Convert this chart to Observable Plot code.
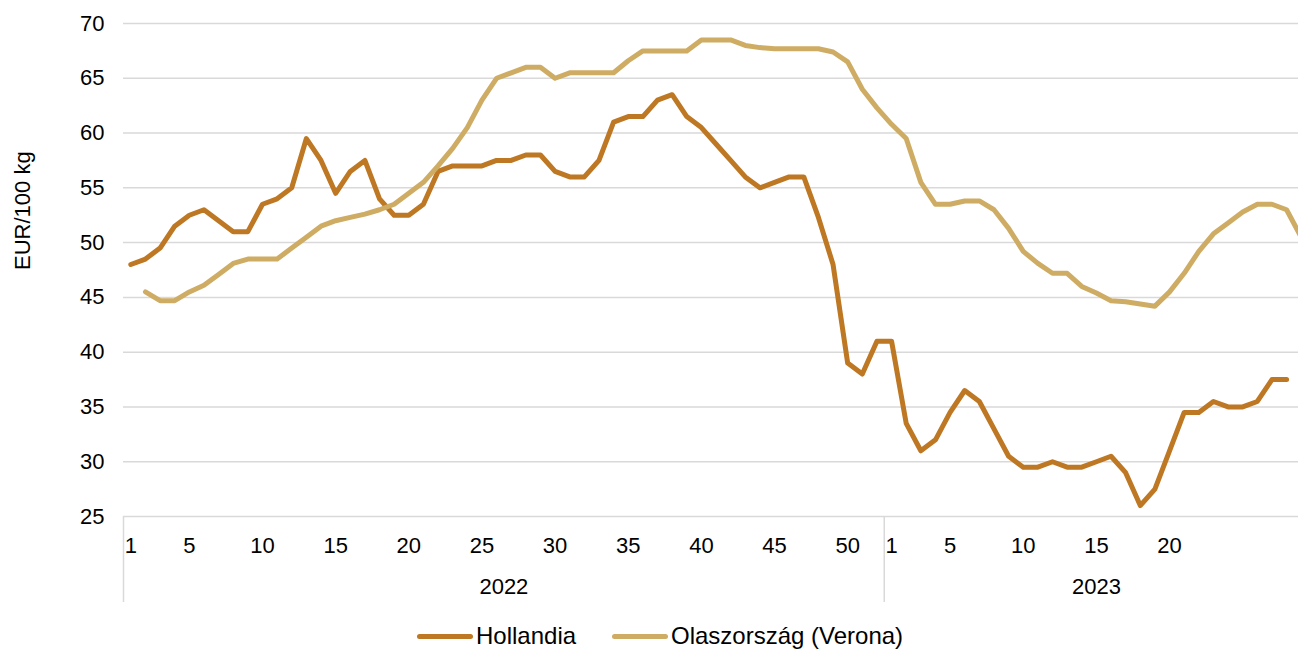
<!DOCTYPE html>
<html>
<head>
<meta charset="utf-8">
<script src="https://cdn.jsdelivr.net/npm/d3@7"></script>
<script src="https://cdn.jsdelivr.net/npm/@observablehq/plot@0.6"></script>
<style>
  html, body { margin: 0; padding: 0; background: #fff; overflow: hidden; }
  body { width: 1298px; height: 649px; font-family: "Liberation Sans", Arial, sans-serif; }
  #legend { position: relative; height: 31px; font-size: 24px; color: #000; }
  .lg { position: absolute; top: 0; display: flex; align-items: center; height: 36px; }
  .sw { display: inline-block; width: 56px; height: 5px; border-radius: 3px; margin-right: 3px; }
</style>
</head>
<body>
<div id="chart"></div>
<div id="legend"></div>
<script>
// ---- Data ----
const years = ["2022", "2023"];
const weeks2022 = d3.range(1, 53);   // 52 weeks
const weeks2023 = d3.range(1, 30);   // 29 weeks (last partly cut off)

const hollandia = [
  // 2022 weeks 1-52
  48, 48.5, 49.5, 51.5, 52.5, 53, 52, 51, 51, 53.5,
  54, 55, 59.5, 57.5, 54.5, 56.5, 57.5, 54, 52.5, 52.5,
  53.5, 56.5, 57, 57, 57, 57.5, 57.5, 58, 58, 56.5,
  56, 56, 57.5, 61, 61.5, 61.5, 63, 63.5, 61.5, 60.5,
  59, 57.5, 56, 55, 55.5, 56, 56, 52.3, 48, 39,
  38, 41,
  // 2023 weeks 1-29
  41, 33.5, 31, 32, 34.5, 36.5, 35.5, 33, 30.5, 29.5,
  29.5, 30, 29.5, 29.5, 30, 30.5, 29, 26, 27.5, 31,
  34.5, 34.5, 35.5, 35, 35, 35.5, 37.5, 37.5, null
];

const olaszorszag = [
  // 2022 weeks 1-52
  null, 45.5, 44.7, 44.7, 45.5, 46.1, 47.1, 48.1, 48.5, 48.5,
  48.5, 49.5, 50.5, 51.5, 52, 52.3, 52.6, 53, 53.5, 54.5,
  55.5, 57, 58.6, 60.5, 63, 65, 65.5, 66, 66, 65,
  65.5, 65.5, 65.5, 65.5, 66.6, 67.5, 67.5, 67.5, 67.5, 68.5,
  68.5, 68.5, 68, 67.8, 67.7, 67.7, 67.7, 67.7, 67.4, 66.5,
  64, 62.3,
  // 2023 weeks 1-29
  60.8, 59.5, 55.5, 53.5, 53.5, 53.8, 53.8, 53, 51.3, 49.2,
  48.1, 47.2, 47.2, 46, 45.4, 44.7, 44.6, 44.4, 44.2, 45.5,
  47.2, 49.2, 50.8, 51.8, 52.8, 53.5, 53.5, 53, 50.5
];

const seriesNames = ["Hollandia", "Olaszország (Verona)"];
const colors = ["#BE7722", "#CFAC63"];
const yTicks = [25, 30, 35, 40, 45, 50, 55, 60, 65, 70];
const weekTickLabels2022 = [1, 5, 10, 15, 20, 25, 30, 35, 40, 45, 50];
const weekTickLabels2023 = [1, 5, 10, 15, 20];
const yLabel = "EUR/100 kg";

// ---- Build tables ----
const cats = [
  ...weeks2022.map(w => ({year: years[0], week: w})),
  ...weeks2023.map(w => ({year: years[1], week: w}))
];
cats.forEach((c, i) => c.i = i);
const n = cats.length;

const rows = [];
[hollandia, olaszorszag].forEach((arr, s) => {
  arr.forEach((v, i) => rows.push({i, value: v, series: seriesNames[s]}));
});

const tickRows = [
  ...weekTickLabels2022.map(w => ({i: cats.findIndex(c => c.year === years[0] && c.week === w), label: String(w)})),
  ...weekTickLabels2023.map(w => ({i: cats.findIndex(c => c.year === years[1] && c.week === w), label: String(w)}))
];
const boundaries = [-0.5, weeks2022.length - 0.5, n - 0.5];
const yearRows = [
  {i: (boundaries[0] + boundaries[1]) / 2, label: years[0]},
  {i: (boundaries[1] + boundaries[2]) / 2, label: years[1]}
];

const W = 1298, H = 618;
const mL = 123, mT = 23, mB = 102;
const band = 14.63;
const FS = 22;

const chart = Plot.plot({
  width: W,
  height: H,
  marginLeft: mL,
  marginRight: 0,
  marginTop: mT,
  marginBottom: mB,
  style: {fontFamily: "'Liberation Sans', Arial, sans-serif", background: "#fff", overflow: "hidden"},
  x: {type: "linear", domain: [-0.5, n - 0.5], range: [mL, mL + n * band], axis: null},
  y: {domain: [25, 70], axis: null},
  color: {domain: seriesNames, range: colors},
  marks: [
    Plot.ruleY(yTicks, {y: d => d, stroke: "#d9d9d9", strokeWidth: 1.5}),
    Plot.ruleX(boundaries, {x: d => d, stroke: "#d9d9d9", strokeWidth: 1.5, insetTop: 516 - mT, insetBottom: -86}),
    Plot.text(yTicks, {y: d => d, text: d => String(d), frameAnchor: "left", dx: -19, textAnchor: "end", fontSize: FS, fill: "#000"}),
    Plot.text([yLabel], {text: d => d, frameAnchor: "left", dx: -101, rotate: -90, fontSize: FS, fill: "#000"}),
    Plot.text(tickRows, {x: "i", text: "label", frameAnchor: "bottom", dy: 36, fontSize: FS, fill: "#000"}),
    Plot.text(yearRows, {x: "i", text: "label", frameAnchor: "bottom", dy: 77, fontSize: FS, fill: "#000"}),
    Plot.line(rows, {x: "i", y: "value", z: "series", stroke: "series", strokeWidth: 5,
      strokeLinecap: "round", strokeLinejoin: "round", defined: d => d.value != null, clip: true})
  ]
});
document.getElementById("chart").appendChild(chart);

// ---- Legend ----
const legend = document.getElementById("legend");
const lgPos = [417, 612];
seriesNames.forEach((name, k) => {
  const item = document.createElement("div");
  item.className = "lg";
  item.style.left = lgPos[k] + "px";
  const sw = document.createElement("span");
  sw.className = "sw";
  sw.style.background = colors[k];
  const t = document.createElement("span");
  t.textContent = name;
  item.appendChild(sw);
  item.appendChild(t);
  legend.appendChild(item);
});
</script>
</body>
</html>
